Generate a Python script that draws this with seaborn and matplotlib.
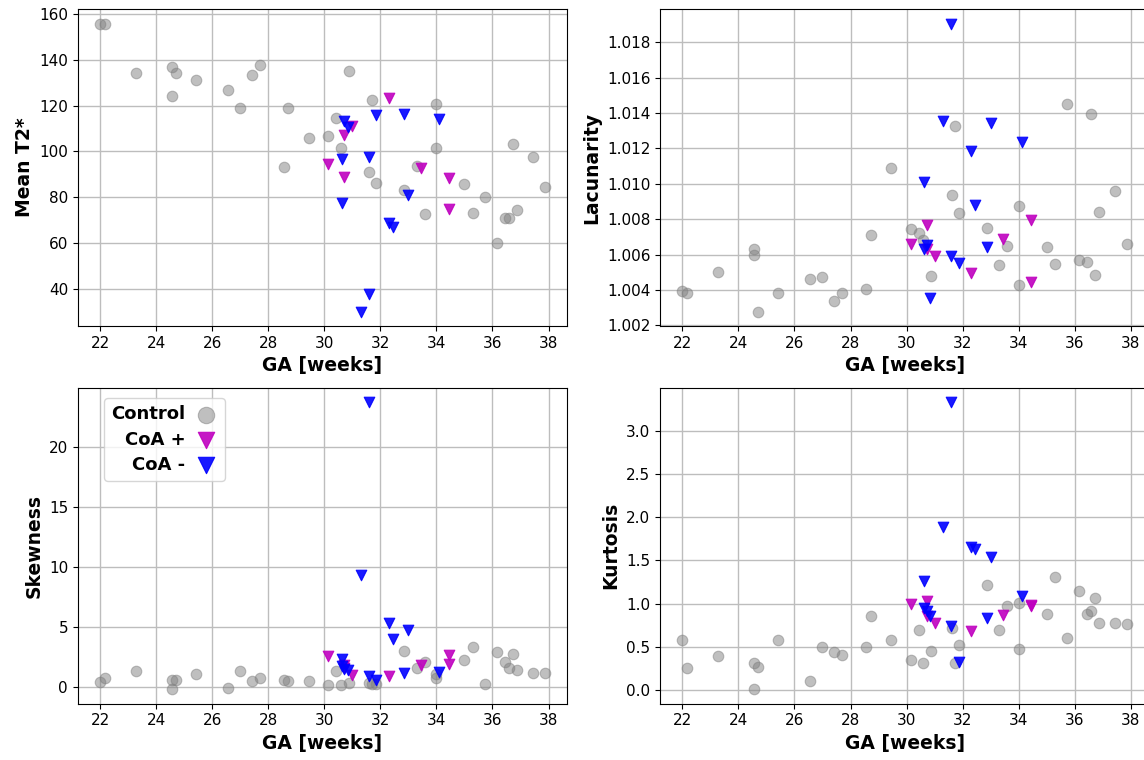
import pandas as pd
import seaborn as sns
import matplotlib.pyplot as plt

# gestational age of every subject, per group
ga_ctrl = [22.0, 22.16, 23.28, 24.57, 24.57, 24.70, 25.43, 26.57, 26.99, 27.42, 27.71, 28.56,
           28.72, 29.44, 30.14, 30.43, 30.58, 30.87, 31.61, 31.71, 31.86, 32.86, 33.30, 33.58,
           34.0, 34.0, 35.0, 35.29, 35.72, 36.16, 36.45, 36.58, 36.73, 36.87, 37.45, 37.86]
ga_pos = [30.14, 30.72, 30.72, 31.0, 32.3, 33.44, 34.45, 34.45]
ga_neg = [30.62, 30.62, 30.72, 30.83, 31.3, 31.58, 31.58, 31.86, 32.3, 32.44, 32.86, 33.0, 34.1]

# mean T2*
t2_ctrl = [155.9, 155.9, 134.2, 136.8, 124.2, 134.2, 131.4, 126.7, 118.9, 133.3, 137.7, 93.0,
           119.2, 106.0, 106.9, 114.4, 101.6, 135.2, 90.9, 122.6, 86.1, 83.3, 93.6, 72.8,
           120.9, 101.6, 85.8, 73.0, 80.2, 60.1, 71.1, 71.1, 103.3, 74.5, 97.7, 84.3]
t2_pos = [94.5, 107.2, 88.9, 111.2, 123.3, 92.6, 88.2, 74.7]
t2_neg = [96.5, 77.6, 113.1, 110.5, 30.0, 37.6, 97.4, 116.0, 68.7, 67.0, 116.4, 80.8, 114.1]

# lacunarity
lac_ctrl = [1.00396, 1.00381, 1.0050, 1.00631, 1.00595, 1.00277, 1.00381, 1.0046, 1.00475,
            1.00336, 1.0038, 1.00404, 1.00712, 1.01089, 1.00745, 1.0072, 1.00684, 1.0048,
            1.00937, 1.01328, 1.00837, 1.00748, 1.0054, 1.00648, 1.00876, 1.00425, 1.0064,
            1.00547, 1.01453, 1.0057, 1.0056, 1.01392, 1.00485, 1.00838, 1.0096, 1.00657]
lac_pos = [1.00659, 1.00769, 1.00631, 1.00589, 1.00495, 1.00686, 1.00797, 1.00447]
lac_neg = [1.01009, 1.00631, 1.00655, 1.00353, 1.01357, 1.01906, 1.00591, 1.00553, 1.01185,
           1.0088, 1.00642, 1.01342, 1.01238]

# skewness
skew_ctrl = [0.42, 0.72, 1.28, -0.22, 0.53, 0.56, 1.03, -0.14, 1.28, 0.47, 0.75, 0.58,
             0.5, 0.47, 0.12, 1.35, 0.18, 0.3, 0.35, 0.2, 0.25, 2.98, 1.53, 2.06,
             1.03, 0.75, 2.23, 3.31, 0.25, 2.9, 2.03, 1.53, 2.73, 1.39, 1.17, 1.17]
skew_pos = [2.53, 1.78, 1.6, 1.0, 0.9, 1.8, 2.65, 1.87]
skew_neg = [2.35, 1.73, 1.5, 1.4, 9.33, 23.75, 0.89, 0.55, 5.3, 3.96, 1.17, 4.75, 1.22]

# kurtosis
kurt_ctrl = [0.575, 0.26, 0.39, 0.32, 0.01, 0.27, 0.58, 0.11, 0.5, 0.44, 0.41, 0.5,
             0.86, 0.575, 0.35, 0.70, 0.31, 0.45, 0.72, 0.32, 0.52, 1.22, 0.70, 0.97,
             1.01, 0.48, 0.88, 1.31, 0.6, 1.15, 0.88, 0.91, 1.07, 0.78, 0.78, 0.77]
kurt_pos = [1.0, 1.03, 0.86, 0.78, 0.69, 0.87, 0.99, 0.97]
kurt_neg = [1.26, 0.95, 0.92, 0.86, 1.88, 3.33, 0.74, 0.33, 1.65, 1.63, 0.83, 1.54, 1.09]

groups = ['Control', 'CoA +', 'CoA -']
df = pd.concat([
    pd.DataFrame({'GA': ga_ctrl, 'Mean T2*': t2_ctrl, 'Lacunarity': lac_ctrl,
                  'Skewness': skew_ctrl, 'Kurtosis': kurt_ctrl, 'group': 'Control'}),
    pd.DataFrame({'GA': ga_pos, 'Mean T2*': t2_pos, 'Lacunarity': lac_pos,
                  'Skewness': skew_pos, 'Kurtosis': kurt_pos, 'group': 'CoA +'}),
    pd.DataFrame({'GA': ga_neg, 'Mean T2*': t2_neg, 'Lacunarity': lac_neg,
                  'Skewness': skew_neg, 'Kurtosis': kurt_neg, 'group': 'CoA -'}),
])

styles = {
    'Control': dict(color='gray', marker='o', alpha=0.5),
    'CoA +': dict(color='m', marker='v', alpha=0.9),
    'CoA -': dict(color='b', marker='v', alpha=0.9),
}

fig = plt.figure(figsize=(11.44, 7.6), dpi=100)
# the right column runs slightly past the figure edge, as in the original
panels = [
    ('Mean T2*', [0.068, 0.571, 0.4275, 0.417]),
    ('Lacunarity', [0.577, 0.571, 0.4275, 0.417]),
    ('Skewness', [0.068, 0.074, 0.4275, 0.416]),
    ('Kurtosis', [0.577, 0.074, 0.4275, 0.416]),
]

for col, pos in panels:
    ax = fig.add_axes(pos)
    ax.set_axisbelow(True)
    ax.grid(True, color='#bdbdbd', linewidth=1.0)
    for g in groups:
        sub = df[df['group'] == g]
        sns.scatterplot(x='GA', y=col, data=sub, ax=ax, s=58, linewidth=0.8,
                        edgecolor='face', label=g, legend=False, **styles[g])
    ax.set_xticks(range(22, 39, 2))
    ax.tick_params(labelsize=11)
    ax.set_xlabel('GA [weeks]', fontsize=13.5, fontweight='bold')
    ax.set_ylabel(col, fontsize=13.5, fontweight='bold')
    if col == 'Skewness':
        ax.legend(loc='upper left', bbox_to_anchor=(0.035, 0.995), markerfirst=False,
                  markerscale=1.55, handlelength=1.3, handletextpad=0.5,
                  borderpad=0.4, labelspacing=0.4,
                  prop={'weight': 'bold', 'size': 13})

plt.savefig('out.png', dpi=100)
